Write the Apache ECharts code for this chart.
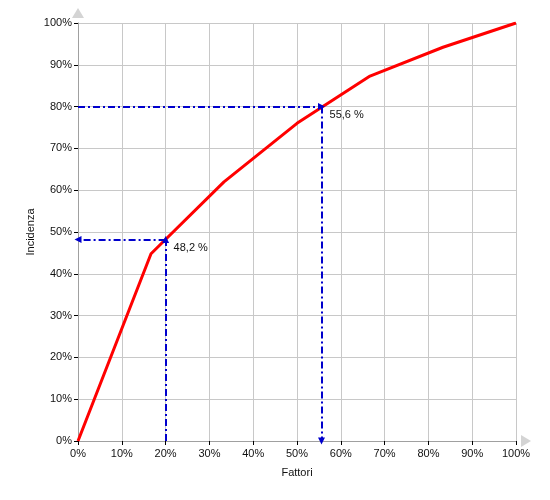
<!DOCTYPE html>
<html>
<head>
<meta charset="utf-8">
<script src="https://cdn.jsdelivr.net/npm/echarts@6/dist/echarts.min.js"></script>
<style>html,body{margin:0;padding:0;background:#fff}#c{width:550px;height:500px}</style>
</head>
<body>
<div id="c"></div>
<script>
// Cumulative curve (Fattori % -> Incidenza %)
const factorsPct = [0, 16.67, 33.33, 50, 66.67, 83.33, 100];
const incidencePct = [0, 44.8, 62, 76, 87.3, 94.2, 100];
// Read-off annotations
const readX = [20, 55.6];
const readY = [48.2, 80];
const readLabels = ['48,2 %', '55,6 %'];
// from x-axis up to curve then left (first), from y-axis right to curve then down (second)
const readFromAxis = ['x', 'y'];
const xTicks = [0, 10, 20, 30, 40, 50, 60, 70, 80, 90, 100];
const yTicks = [0, 10, 20, 30, 40, 50, 60, 70, 80, 90, 100];

const font = 'Arial, "Liberation Sans", sans-serif';
const curve = factorsPct.map((x, i) => [x, incidencePct[i]]);

const markLines = [];
readX.forEach((x, i) => {
  const y = readY[i];
  if (readFromAxis[i] === 'x') {
    markLines.push([{ coord: [x, 0] }, { coord: [x, y] }]);
    markLines.push([{ coord: [x, y] }, { coord: [0, y] }]);
  } else {
    markLines.push([{ coord: [0, y] }, { coord: [x, y] }]);
    markLines.push([{ coord: [x, y] }, { coord: [x, 0] }]);
  }
});

const labelPts = readX.map((x, i) => ({ value: [x, readY[i]], name: readLabels[i] }));

function axisBase(ticks, extra, margin) {
  return Object.assign({
    type: 'value', min: ticks[0], max: ticks[ticks.length - 1], interval: ticks[1] - ticks[0],
    nameMoveOverlap: false,
    axisLabel: { formatter: '{value}%', color: '#111', fontSize: 11, fontFamily: font, margin: margin },
    axisTick: { show: true, length: 4, lineStyle: { color: '#000' } },
    splitLine: { show: true, lineStyle: { color: '#c8c8c8', width: 1 } },
    axisLine: { show: true, onZero: false, lineStyle: { color: '#a0a0a0', width: 1 } },
    nameTextStyle: { color: '#111', fontSize: 11, fontFamily: font }
  }, extra);
}
function arrowAxis(ticks, extra) {
  return Object.assign({
    type: 'value', min: ticks[0], max: ticks[ticks.length - 1], interval: ticks[1] - ticks[0],
    z: -1,
    axisLabel: { show: false }, axisTick: { show: false }, splitLine: { show: false },
    axisLine: { show: true, onZero: false, symbol: ['none', 'triangle'], symbolSize: [12, 10], symbolOffset: [0, 10],
      lineStyle: { color: '#d4d4d4', width: 1 } }
  }, extra);
}

const chart = echarts.init(document.getElementById('c'));
chart.setOption({
  animation: false,
  grid: { left: 78, right: 34, top: 23, bottom: 59 },
  xAxis: [
    axisBase(xTicks, { name: 'Fattori', nameLocation: 'middle', nameGap: 26, position: 'bottom' }, 7),
    arrowAxis(xTicks, { position: 'bottom' })
  ],
  yAxis: [
    axisBase(yTicks, { name: 'Incidenza', nameLocation: 'middle', nameGap: 42, position: 'left' }, 6),
    arrowAxis(yTicks, { position: 'left' })
  ],
  series: [
    {
      type: 'line', data: curve, showSymbol: false, symbol: 'none',
      lineStyle: { color: '#ff0000', width: 3 }, z: 3,
      markLine: {
        silent: true, symbol: ['none', 'triangle'], symbolSize: [7, 7],
        label: { show: false },
        lineStyle: { color: '#0000cc', width: 2, type: [7, 3, 2, 3] },
        data: markLines
      }
    },
    {
      type: 'scatter', data: labelPts, symbolSize: 0, z: 4, silent: true,
      itemStyle: { color: '#000', opacity: 1 },
      label: { show: true, position: [8, 3], formatter: p => p.name, color: '#111', opacity: 1, fontSize: 11, fontFamily: font }
    }
  ]
});
</script>
</body>
</html>
